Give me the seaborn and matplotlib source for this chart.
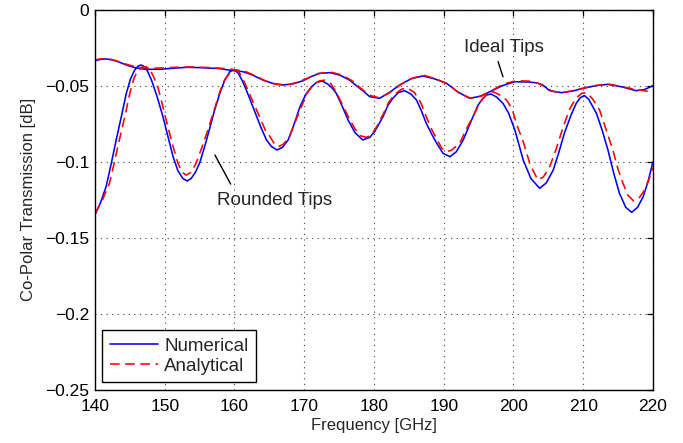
import numpy as np
import pandas as pd
import matplotlib
matplotlib.use("Agg")
import matplotlib.pyplot as plt
import seaborn as sns

# ---------------- data ----------------
rounded_num_f = [140.0, 140.8, 141.6, 142.3, 143.05, 143.8, 144.5, 145.1, 145.7, 146.2, 146.6, 147.0,
                 147.5, 148.1, 148.9, 149.75, 150.5, 151.2, 151.9, 152.6, 153.2, 153.8, 154.4, 155.0,
                 155.7, 156.4, 157.1, 157.9, 158.6, 159.3, 159.9, 160.5, 161.1, 161.7, 162.4, 163.2,
                 163.9, 164.6, 165.3, 166.1, 166.9, 167.7, 168.5, 169.4, 170.2, 171.05, 171.8, 172.6,
                 173.4, 174.0, 174.6, 175.4, 176.3, 177.3, 178.4, 179.4, 180.1, 181.3, 182.0, 182.7,
                 183.5, 184.4, 185.3, 186.1, 186.8, 187.5, 188.3, 189.0, 189.9, 190.9, 191.8, 192.8,
                 193.5, 194.2, 194.9, 195.6, 196.2, 196.8, 197.6, 198.5, 199.3, 200.2, 201.4, 202.5,
                 203.75, 204.7, 205.7, 206.5, 207.3, 208.2, 209.0, 209.6, 210.2, 210.8, 211.9, 212.7,
                 213.55, 214.4, 215.2, 216.1, 216.95, 217.8, 218.6, 219.3, 220.0]
rounded_num_db = [-0.1350, -0.1270, -0.1164, -0.1020, -0.0857, -0.0700, -0.0550, -0.0455, -0.0397, -0.0370,
                  -0.0364, -0.0372, -0.0400, -0.0462, -0.0570, -0.0704, -0.0840, -0.0967, -0.1060, -0.1110,
                  -0.1127, -0.1110, -0.1070, -0.1010, -0.0905, -0.0790, -0.0670, -0.0550, -0.0465, -0.0410,
                  -0.0395, -0.0415, -0.0465, -0.0528, -0.0610, -0.0704, -0.0785, -0.0857, -0.0900, -0.0923,
                  -0.0905, -0.0857, -0.0760, -0.0638, -0.0560, -0.0506, -0.0478, -0.0469, -0.0490, -0.0515,
                  -0.0550, -0.0630, -0.0726, -0.0810, -0.0857, -0.0840, -0.0802, -0.0704, -0.0630, -0.0583,
                  -0.0545, -0.0533, -0.0555, -0.0594, -0.0665, -0.0747, -0.0820, -0.0879, -0.0945, -0.0967,
                  -0.0935, -0.0857, -0.0780, -0.0704, -0.0630, -0.0583, -0.0560, -0.0555, -0.0575, -0.0616,
                  -0.0680, -0.0791, -0.0989, -0.1110, -0.1175, -0.1140, -0.1055, -0.0940, -0.0813, -0.0700,
                  -0.0616, -0.0578, -0.0566, -0.0590, -0.0682, -0.0790, -0.0923, -0.1080, -0.1208, -0.1300,
                  -0.1333, -0.1300, -0.1230, -0.1130, -0.1000]

rounded_ana_f = [140.0, 141.0, 142.1, 142.8, 143.5, 144.3, 145.0, 145.6, 146.2, 146.8, 147.35, 147.9,
                 148.4, 149.0, 149.7, 150.45, 151.2, 151.9, 152.5, 153.1, 153.8, 154.5, 155.3, 156.2,
                 157.1, 157.9, 158.6, 159.3, 160.0, 160.6, 161.5, 162.5, 163.6, 164.4, 165.1, 165.7,
                 166.3, 167.0, 167.9, 168.7, 169.6, 170.4, 171.3, 172.2, 173.0, 173.8, 174.7, 175.6,
                 176.5, 177.3, 178.1, 178.9, 179.6, 180.4, 181.3, 182.1, 183.0, 184.0, 184.9, 185.8,
                 186.7, 187.5, 188.3, 189.0, 189.7, 190.4, 191.1, 192.3, 193.3, 194.2, 195.2, 196.2,
                 197.1, 198.0, 199.0, 199.8, 200.5, 201.4, 202.4, 203.5, 204.3, 205.2, 206.1, 207.1,
                 208.1, 209.0, 209.8, 210.5, 211.4, 212.35, 213.3, 214.25, 215.0, 215.7, 216.4, 217.2,
                 218.0, 218.8, 219.4, 220.0]
rounded_ana_db = [-0.1340, -0.1260, -0.1140, -0.1000, -0.0857, -0.0700, -0.0550, -0.0450, -0.0397, -0.0378,
                  -0.0375, -0.0395, -0.0440, -0.0506, -0.0630, -0.0770, -0.0900, -0.1010, -0.1070, -0.1088,
                  -0.1070, -0.1010, -0.0910, -0.0790, -0.0660, -0.0540, -0.0460, -0.0420, -0.0400, -0.0405,
                  -0.0484, -0.0590, -0.0704, -0.0790, -0.0836, -0.0880, -0.0901, -0.0885, -0.0836, -0.0740,
                  -0.0638, -0.0550, -0.0495, -0.0468, -0.0463, -0.0485, -0.0550, -0.0638, -0.0720, -0.0785,
                  -0.0830, -0.0840, -0.0825, -0.0770, -0.0690, -0.0610, -0.0555, -0.0522, -0.0517, -0.0545,
                  -0.0610, -0.0704, -0.0790, -0.0850, -0.0910, -0.0934, -0.0925, -0.0879, -0.0780, -0.0704,
                  -0.0610, -0.0555, -0.0540, -0.0560, -0.0594, -0.0652, -0.0760, -0.0868, -0.1020, -0.1120,
                  -0.1100, -0.1033, -0.0920, -0.0775, -0.0650, -0.0580, -0.0550, -0.0545, -0.0590, -0.0660,
                  -0.0790, -0.0923, -0.1050, -0.1142, -0.1220, -0.1257, -0.1240, -0.1186, -0.1120, -0.1040]

ideal_num_f = [140.0, 140.8, 141.6, 142.5, 143.5, 144.5, 145.5, 146.5, 147.35, 149.3, 151.0, 153.1,
               155.0, 156.4, 158.0, 159.3, 160.25, 161.25, 162.6, 164.1, 165.5, 167.0, 168.4, 169.85,
               171.0, 172.2, 173.7, 175.1, 176.5, 177.5, 178.4, 179.4, 180.8, 182.2, 183.7, 185.3,
               187.0, 188.7, 190.4, 192.0, 193.7, 195.2, 196.6, 198.4, 200.2, 202.3, 203.4, 204.2,
               205.2, 206.9, 208.5, 210.0, 211.8, 213.5, 215.6, 217.6, 218.8, 220.0]
ideal_num_db = [-0.0336, -0.0327, -0.0324, -0.0330, -0.0345, -0.0364, -0.0378, -0.0388, -0.0392, -0.0392,
                -0.0386, -0.0379, -0.0381, -0.0384, -0.0388, -0.0398, -0.0402, -0.0408, -0.0430, -0.0463,
                -0.0485, -0.0495, -0.0488, -0.0467, -0.0440, -0.0419, -0.0414, -0.0430, -0.0463, -0.0500,
                -0.0533, -0.0572, -0.0583, -0.0545, -0.0495, -0.0455, -0.0436, -0.0455, -0.0484, -0.0540,
                -0.0583, -0.0570, -0.0540, -0.0500, -0.0474, -0.0476, -0.0482, -0.0495, -0.0533, -0.0546,
                -0.0535, -0.0517, -0.0500, -0.0491, -0.0508, -0.0533, -0.0525, -0.0500]

ideal_ana_f = [140.0, 141.0, 142.0, 143.0, 144.0, 145.2, 146.5, 148.0, 150.0, 152.0, 154.0, 156.0,
               158.0, 160.0, 161.5, 163.0, 164.5, 166.0, 167.5, 169.0, 170.5, 172.0, 173.8, 175.3,
               176.8, 178.2, 179.5, 180.8, 182.3, 183.8, 185.5, 187.2, 188.9, 190.6, 192.2, 193.9,
               195.4, 196.8, 198.5, 200.4, 202.3, 203.6, 204.6, 205.6, 207.0, 208.7, 210.3, 212.0,
               213.7, 215.5, 217.5, 219.0, 220.0]
ideal_ana_db = [-0.0330, -0.0322, -0.0324, -0.0335, -0.0352, -0.0368, -0.0380, -0.0385, -0.0383, -0.0378,
                -0.0377, -0.0380, -0.0385, -0.0394, -0.0405, -0.0435, -0.0470, -0.0492, -0.0495, -0.0478,
                -0.0450, -0.0420, -0.0410, -0.0428, -0.0465, -0.0520, -0.0565, -0.0580, -0.0545, -0.0493,
                -0.0450, -0.0432, -0.0455, -0.0490, -0.0548, -0.0583, -0.0568, -0.0535, -0.0490, -0.0467,
                -0.0470, -0.0485, -0.0510, -0.0537, -0.0545, -0.0532, -0.0513, -0.0497, -0.0490, -0.0505,
                -0.0525, -0.0535, -0.0541]

x_ticks = [140, 150, 160, 170, 180, 190, 200, 210, 220]
y_ticks = [0, -0.05, -0.1, -0.15, -0.2, -0.25]
y_tick_labels = ["0", "\u22120.05", "\u22120.1", "\u22120.15", "\u22120.2", "\u22120.25"]
legend_labels = ["Numerical", "Analytical"]

# ---------------- style ----------------
sns.set_style("white")
plt.rcParams["font.family"] = ["Liberation Sans", "DejaVu Sans"]

fig = plt.figure(figsize=(6.83, 4.43), dpi=100)
ax = fig.add_axes([0.139, 0.1203, 0.817, 0.8578])

BLUE = "#0000ff"
RED = "#ff0000"
LW = 1.15
DASH = (0, (6, 3.5))

sns.lineplot(x=rounded_num_f, y=rounded_num_db, ax=ax, color=BLUE, lw=LW, sort=False, estimator=None)
sns.lineplot(x=ideal_num_f, y=ideal_num_db, ax=ax, color=BLUE, lw=LW, sort=False, estimator=None)
sns.lineplot(x=rounded_ana_f, y=rounded_ana_db, ax=ax, color=RED, lw=LW, linestyle=DASH, sort=False, estimator=None)
sns.lineplot(x=ideal_ana_f, y=ideal_ana_db, ax=ax, color=RED, lw=LW, linestyle=DASH, sort=False, estimator=None)

ax.set_xlim(140, 220)
ax.set_ylim(-0.25, 0)
ax.set_xticks(x_ticks)
ax.set_xticklabels([str(t) for t in x_ticks])
ax.set_yticks(y_ticks)
ax.set_yticklabels(y_tick_labels)

ax.grid(True, color="0.25", linestyle=(0, (1, 4)), linewidth=0.8)
for s in ax.spines.values():
    s.set_visible(True)
    s.set_color("black")
    s.set_linewidth(1.0)
ax.tick_params(direction="in", length=4, width=0.9, top=True, right=True,
               labelsize=12.5, colors="black")
ax.tick_params(axis="x", pad=6.5)
ax.tick_params(axis="y", pad=4)

ax.set_xlabel("Frequency [GHz]", fontsize=12, labelpad=3)
ax.set_ylabel("Co-Polar Transmission [dB]", fontsize=12, labelpad=7)

# legend
lines = ax.get_lines()
handles = [lines[0], lines[2]]
leg = ax.legend(handles, legend_labels, loc="lower left", bbox_to_anchor=(0.013, 0.019),
                borderaxespad=0, fontsize=13.5, frameon=True, fancybox=False,
                handlelength=2.6, handletextpad=0.3, borderpad=0.4, labelspacing=0.15)
leg.get_frame().set_edgecolor("black")
leg.get_frame().set_linewidth(1.0)
leg.get_frame().set_alpha(1)

# annotations: pointer lines and labels
ax.annotate("", xy=(159.46, -0.1147), xytext=(157.2, -0.0956),
            arrowprops=dict(arrowstyle="-", color="black", lw=1.0, shrinkA=0, shrinkB=0))
ax.text(165.8, -0.1252, "Rounded Tips", ha="center", va="center", fontsize=13.5)
ax.annotate("", xy=(198.5, -0.0441), xytext=(197.8, -0.0342),
            arrowprops=dict(arrowstyle="-", color="black", lw=1.0, shrinkA=0, shrinkB=0))
ax.text(198.6, -0.0250, "Ideal Tips", ha="center", va="center", fontsize=13.5)

fig.savefig("out.png", dpi=100)
